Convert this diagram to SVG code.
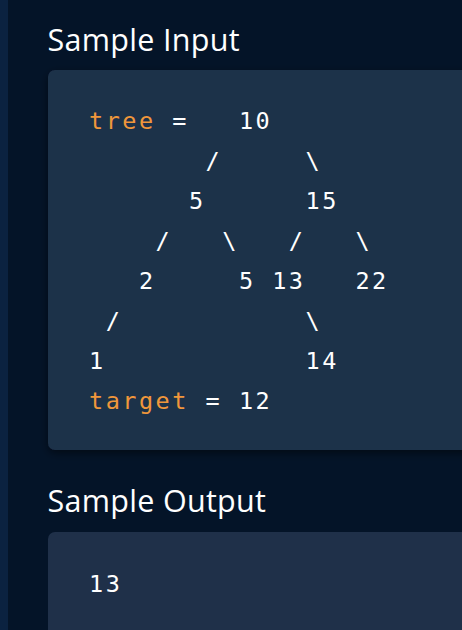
<svg xmlns="http://www.w3.org/2000/svg" width="462" height="630" viewBox="0 0 462 630">
  <defs>
    <filter id="shadow" x="-10%" y="-10%" width="130%" height="130%">
      <feGaussianBlur in="SourceAlpha" stdDeviation="4"/>
      <feOffset dy="3"/>
      <feComponentTransfer><feFuncA type="linear" slope="0.5"/></feComponentTransfer>
      <feMerge><feMergeNode/><feMergeNode in="SourceGraphic"/></feMerge>
    </filter>
  </defs>
  <style>
    .h { font-family: "Open Sans", "Noto Sans", sans-serif; font-size: 30.5px; font-weight: 500; fill: #ffffff; letter-spacing: 0.3px; }
    .c { font-family: "DejaVu Sans Mono", "Liberation Mono", monospace; font-size: 23.5px; fill: #ffffff; letter-spacing: 2.5px; }
    .k { fill: #f0973b; }
    .box { fill: #1f3049; }
  </style>
  <rect x="0" y="0" width="462" height="630" fill="#041428"/>
  <rect x="0" y="0" width="8" height="630" fill="#0b2240"/>

  <g id="input-heading">
    <text class="h" x="47.5" y="51">Sample Input</text>
  </g>
  <g id="input-box">
    <rect class="box" x="48" y="70" width="430" height="380" rx="7" filter="url(#shadow)"/>
    <text class="c">
      <tspan class="k" x="89" y="129">tree</tspan><tspan x="172.3" y="129">=</tspan><tspan x="238.9" y="129">10</tspan>
      <tspan x="205.6" y="169">/</tspan><tspan x="305.5" y="169">\</tspan>
      <tspan x="188.9" y="209">5</tspan><tspan x="305.5" y="209">15</tspan>
      <tspan x="155.6" y="249">/</tspan><tspan x="222.2" y="249">\</tspan><tspan x="288.8" y="249">/</tspan><tspan x="355.4" y="249">\</tspan>
      <tspan x="139" y="289">2</tspan><tspan x="238.9" y="289">5</tspan><tspan x="272.2" y="289">13</tspan><tspan x="355.4" y="289">22</tspan>
      <tspan x="105.7" y="329">/</tspan><tspan x="305.5" y="329">\</tspan>
      <tspan x="89" y="369">1</tspan><tspan x="305.5" y="369">14</tspan>
      <tspan class="k" x="89" y="409">target</tspan><tspan x="205.6" y="409">=</tspan><tspan x="238.9" y="409">12</tspan>
    </text>
  </g>

  <g id="output-heading">
    <text class="h" x="47.5" y="512">Sample Output</text>
  </g>
  <g id="output-box">
    <rect class="box" x="48" y="532" width="430" height="110" rx="7"/>
    <text class="c" x="89" y="592">13</text>
  </g>
</svg>
